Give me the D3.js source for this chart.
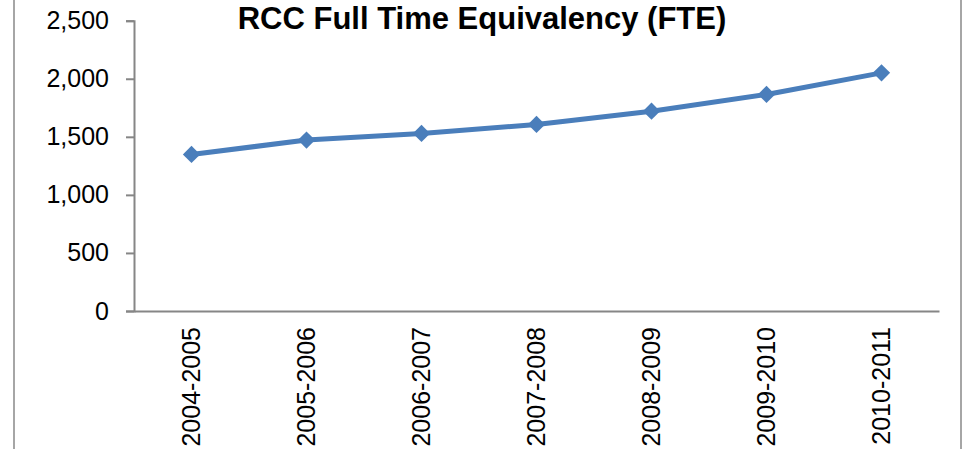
<!DOCTYPE html>
<html>
<head>
<meta charset="utf-8">
<script src="https://cdn.jsdelivr.net/npm/d3@7/dist/d3.min.js"></script>
<style>
  html, body { margin: 0; padding: 0; background: #fff; }
  svg { display: block; }
</style>
</head>
<body>
<svg id="chart" width="966" height="449"></svg>
<script>
// chart data
const years = ['2004-2005', '2005-2006', '2006-2007', '2007-2008', '2008-2009', '2009-2010', '2010-2011'];
const fte = [1348, 1472, 1529, 1607, 1721, 1865, 2051];
const yTicks = [0, 500, 1000, 1500, 2000, 2500];
const title = 'RCC Full Time Equivalency (FTE)';

const svg = d3.select('#chart');
const width = 966;
const height = 449;

const cs = {
  left: 134,
  right: 939,
  top: 20.7,
  bottom: 311,
  lineColor: '#4a7ebb',
  axisColor: '#868686',
  font: '"Liberation Sans", Arial, sans-serif',
};

// outer chart frame (cropped at top and bottom)
svg.append('rect')
  .attr('x', 14)
  .attr('y', -10)
  .attr('width', 961 - 14)
  .attr('height', height + 20)
  .attr('fill', 'none')
  .attr('stroke', '#a6a6a6')
  .attr('stroke-width', 2);

const x = d3.scaleBand()
  .domain(years)
  .range([cs.left, cs.right]);

const y = d3.scaleLinear()
  .domain([0, 2500])
  .range([cs.bottom, cs.top]);

// y axis
const yAxis = svg.append('g')
  .attr('transform', `translate(${cs.left},0)`)
  .call(d3.axisLeft(y)
    .tickValues(yTicks)
    .tickSize(8)
    .tickPadding(17)
    .tickFormat(d3.format(',')));
yAxis.select('.domain').attr('stroke', cs.axisColor).attr('stroke-width', 2);
yAxis.selectAll('.tick line').attr('stroke', cs.axisColor).attr('stroke-width', 2);
yAxis.selectAll('.tick text')
  .attr('fill', '#000')
  .style('font-family', cs.font)
  .style('font-size', '25px');

// x axis
const xAxis = svg.append('g')
  .attr('transform', `translate(0,${cs.bottom})`)
  .call(d3.axisBottom(x).tickSize(0).tickSizeOuter(0));
xAxis.select('.domain').attr('stroke', cs.axisColor).attr('stroke-width', 2);
xAxis.selectAll('.tick text')
  .attr('fill', '#000')
  .style('font-family', cs.font)
  .style('font-size', '25px')
  .attr('transform', 'rotate(-90)')
  .attr('text-anchor', 'end')
  .attr('x', -16)
  .attr('y', 0)
  .attr('dy', '0.35em');

const cx = d => x(d) + x.bandwidth() / 2;

// series line
const line = d3.line()
  .x((d, i) => cx(years[i]))
  .y(d => y(d));

svg.append('path')
  .datum(fte)
  .attr('d', line)
  .attr('fill', 'none')
  .attr('stroke', cs.lineColor)
  .attr('stroke-width', 5)
  .attr('stroke-linejoin', 'round');

// diamond markers
const diamond = d3.symbol().type(d3.symbolDiamond2).size(190);
svg.selectAll('.marker')
  .data(fte)
  .enter()
  .append('path')
  .attr('class', 'marker')
  .attr('d', diamond)
  .attr('fill', cs.lineColor)
  .attr('transform', (d, i) => `translate(${cx(years[i])},${y(d)})`);

// title
svg.append('text')
  .attr('x', 482)
  .attr('y', 29)
  .attr('text-anchor', 'middle')
  .style('font-family', cs.font)
  .style('font-size', '31px')
  .style('font-weight', 'bold')
  .text(title);
</script>
</body>
</html>
